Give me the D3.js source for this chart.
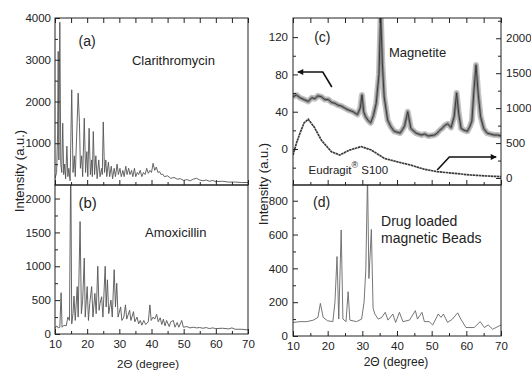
<!DOCTYPE html>
<html><head><meta charset="utf-8">
<script src="https://cdn.jsdelivr.net/npm/d3@7"></script>
<style>body{margin:0;background:#fff} text{font-family:"Liberation Sans",Arial,sans-serif;fill:#222}</style>
</head><body><svg id="c" width="531" height="370"></svg>
<script>
// ---------- data (2θ in degree, intensity in a.u.) ----------
const xTicks = [10,20,30,40,50,60,70];
const xMinor = [15,25,35,45,55,65];
const aTicks = [1000,2000,3000,4000];
const bTicks = [0,500,1000,1500,2000];
const cLeftTicks = [0,40,80,120];
const cRightTicks = [0,500,1000,1500,2000];
const dTicks = [0,200,400,600,800];

// (a) Clarithromycin
const aX = [10.0,10.5,10.8,11.0,11.2,11.5,11.8,12.1,12.4,12.7,13.0,13.3,13.7,14.0,14.3,14.7,15.2,15.6,16.0,16.3,16.7,17.2,17.6,17.9,18.3,18.6,19.1,19.5,19.9,20.2,20.6,21.0,21.4,21.6,21.9,22.3,22.7,23.1,23.6,24.0,24.5,24.7,25.0,25.4,25.8,26.1,26.6,27.0,27.5,27.9,28.4,28.8,29.3,29.7,30.2,30.6,31.1,31.5,32.0,32.4,32.9,33.3,33.8,34.2,34.7,35.1,35.6,36.0,36.5,37.0,37.5,38.0,38.5,39.0,39.5,40.0,40.5,41.0,41.5,42.0,42.5,43.0,43.5,44.0,45.0,46.0,47.0,48.0,49.0,50.0,51.0,52.0,53.0,54.0,55.0,56.0,57.0,58.0,59.0,60.0,62.0,64.0,66.0,68.0,70.0];
const aY = [150,300,1200,3200,600,3900,500,300,1480,250,500,150,930,200,400,100,2280,300,700,200,1100,2200,1500,400,700,200,1600,300,800,200,1360,250,600,200,1280,250,700,150,600,200,400,250,1510,300,600,200,550,200,450,150,400,200,500,250,400,200,350,200,450,250,400,250,350,200,400,200,300,250,350,200,300,250,400,280,350,300,520,350,430,300,320,250,260,200,220,160,180,140,150,110,130,100,140,160,120,100,120,90,110,80,90,70,70,60,60];

// (b) Amoxicillin
const bX = [10.0,10.5,11.0,11.5,11.9,12.2,12.8,13.5,14.0,14.5,14.9,15.2,15.6,15.9,16.3,16.9,17.2,17.8,18.2,18.6,19.1,19.4,20.0,20.4,20.8,21.4,21.8,22.4,22.8,23.3,23.7,24.0,24.5,24.9,25.6,25.9,26.3,26.7,27.4,27.8,28.4,28.8,29.2,29.6,30.4,30.8,31.4,31.9,32.3,33.2,33.6,34.4,34.8,35.5,36.0,36.5,37.0,37.6,38.2,39.0,39.5,39.9,40.5,41.0,41.6,42.1,42.7,43.2,43.7,44.2,44.7,45.5,46.0,46.8,47.3,48.0,48.5,49.4,49.9,51.0,52.0,53.0,54.0,55.0,56.0,57.0,58.0,59.0,60.0,62.0,64.0,65.0,66.0,68.0,70.0];
const bY = [80,120,90,100,610,100,130,120,250,200,2600,150,300,560,200,700,250,1660,300,500,1120,250,700,200,450,700,250,600,300,1000,350,450,550,250,1000,400,800,300,500,250,950,400,750,250,400,200,250,430,220,350,200,330,180,250,150,200,130,200,140,180,430,200,250,220,290,180,240,140,220,120,200,110,180,200,100,170,100,200,100,110,90,100,90,95,85,95,80,90,80,85,75,90,70,70,60];

// (c) Magnetite (left axis)
const magX = [10.0,11.0,12.0,13.2,14.4,15.4,16.3,17.2,18.2,19.2,20.2,21.1,22.1,23.0,24.0,24.9,25.9,27.3,28.6,29.4,29.9,30.4,30.9,31.6,32.4,33.2,34.0,34.8,35.3,35.8,36.3,37.3,38.2,39.2,40.1,40.9,41.6,42.2,43.1,43.6,44.0,45.5,47.0,48.0,49.0,50.8,51.6,52.3,53.0,53.7,54.6,55.6,56.5,57.2,57.8,58.5,59.4,60.3,61.0,61.6,62.2,62.8,63.4,64.1,65.0,66.0,67.0,68.0,69.0,70.0];
const magY = [56,58,55,53,51,55,54,57,56,53,53,50,49,47,46,44,42,40,37,44,58,40,35,31,28,36,49,80,145,90,56,31,24,19,18,17,21,25,40,30,22,17,15,16,14,15,17,20,22,25,27,23,35,60,38,22,20,19,24,30,63,90,60,35,22,17,16,15,15,14];
// (c) Eudragit S100 (right axis)
const eudX = [10.0,11.0,12.0,13.2,14.4,16.1,18.2,21.1,23.5,26.3,29.7,32.6,36.4,40.2,44.0,47.9,51.7,56.5,61.3,66.0,70.0];
const eudY = [330,500,640,790,840,730,540,375,330,400,450,400,280,230,185,125,90,67,43,29,19];

// (d) Drug loaded magnetic beads
const dX = [10.0,12.0,14.0,15.9,17.2,17.9,18.7,20.0,21.5,22.1,22.7,23.2,23.9,24.4,25.3,25.9,26.4,28.3,29.8,30.5,31.0,31.5,31.9,32.6,33.1,33.6,34.6,35.6,36.6,37.4,38.8,39.6,40.7,41.7,43.6,45.3,45.9,47.2,47.9,49.3,50.3,51.9,52.7,53.4,54.6,56.0,57.5,58.4,59.9,62.3,64.0,65.2,66.3,67.6,69.5,70.0];
const dY = [80,85,85,94,110,193,110,90,85,200,470,100,627,100,85,262,94,85,100,200,390,950,340,630,165,130,100,110,140,94,130,80,140,85,94,150,100,140,85,85,65,130,110,130,80,100,137,100,50,50,85,50,65,40,60,65];

// ---------- layout ----------
const svg = d3.select("#c");
const xL = d3.scaleLinear().domain([10,70]).range([55,248]);
const xR = d3.scaleLinear().domain([10,70]).range([293,501]);
const yA = d3.scaleLinear().domain([0,4000]).range([185,18]);
const yB = d3.scaleLinear().domain([0,2200]).range([334,185]);
const yCL = d3.scaleLinear().domain([-38.6,140.5]).range([185,18]);
const yCR = d3.scaleLinear().domain([-100,2290]).range([185,18]);
const yD = d3.scaleLinear().domain([0,893]).range([336,185]);

function clip(id, x, y){
  svg.append("clipPath").attr("id",id).append("rect")
    .attr("x",x.range()[0]).attr("y",y.range()[1])
    .attr("width",x.range()[1]-x.range()[0]).attr("height",y.range()[0]-y.range()[1]);
}
function trace(id, x, y, xs, ys, style){
  const line = d3.line().x(d=>x(d[0])).y(d=>y(d[1]));
  const p = svg.append("path").attr("clip-path",`url(#${id})`)
    .attr("d", line(d3.zip(xs,ys))).attr("fill","none");
  Object.entries(style).forEach(([k,v])=>p.attr(k,v));
  return p;
}
function tickAxis(axisFn, scale, vals, size, pos, fmt, pad, fs){
  const ax = axisFn(scale).tickValues(vals).tickSizeInner(-size).tickSizeOuter(0)
    .tickPadding(pad||4).tickFormat(fmt===null? "" : (fmt||d3.format("d")));
  const g = svg.append("g").attr("transform",pos).call(ax);
  g.select(".domain").remove();
  g.selectAll("line").attr("stroke","#222");
  g.selectAll("text").attr("font-size",fs||"11.5px").attr("fill","#222")
    .attr("font-family","Liberation Sans, Arial, sans-serif");
  return g;
}
function frame(x, y){
  svg.append("rect").attr("x",x.range()[0]).attr("y",y.range()[1])
    .attr("width",x.range()[1]-x.range()[0]).attr("height",y.range()[0]-y.range()[1])
    .attr("fill","none").attr("stroke","#222").attr("stroke-width",1);
}

// clips
clip("ca", xL, yA); clip("cb", xL, yB); clip("cc", xR, yCL); clip("cd", xR, yD);

// traces
trace("ca", xL, yA, aX, aY, {stroke:"#555","stroke-width":0.9});
trace("cb", xL, yB, bX, bY, {stroke:"#555","stroke-width":0.9});
trace("cc", xR, yCL, magX, magY, {stroke:"#c4c4c4","stroke-width":6,"stroke-linejoin":"round"});
trace("cc", xR, yCL, magX, magY, {stroke:"#8a8a8a","stroke-width":3,"stroke-linejoin":"round"});
trace("cc", xR, yCL, magX, magY, {stroke:"#333","stroke-width":0.9});
trace("cc", xR, yCR, eudX, eudY, {stroke:"#3a3a3a","stroke-width":1.7,"stroke-dasharray":"2.5,0.5"});
trace("cd", xR, yD, dX, dY, {stroke:"#666","stroke-width":0.9});

// frames
frame(xL, yA); frame(xL, yB); frame(xR, yCL); frame(xR, yD);

// x ticks: top of (a)/(c), bottom of (a)/(c) (pointing up), bottom of (b)/(d)
[[xL,18,334,185],[xR,18,336,185]].forEach(([x,top,bot,mid])=>{
  tickAxis(d3.axisTop, x, xTicks, 5, `translate(0,${top})`, null);
  tickAxis(d3.axisTop, x, xMinor, 5, `translate(0,${top})`, null);
  tickAxis(d3.axisBottom, x, xTicks, 5, `translate(0,${mid})`, null);
  tickAxis(d3.axisBottom, x, xMinor, 3, `translate(0,${mid})`, null);
  tickAxis(d3.axisBottom, x, xTicks, 5, `translate(0,${bot})`, undefined, 6, "11.5px");
  tickAxis(d3.axisBottom, x, xMinor, 3, `translate(0,${bot})`, null);
});

// y axes
tickAxis(d3.axisLeft, yA, aTicks, 5, "translate(55,0)", undefined, 4);
tickAxis(d3.axisLeft, yA, [500,1500,2500,3500], 3, "translate(55,0)", null);
tickAxis(d3.axisLeft, yB, bTicks, 5, "translate(55,0)", undefined, 4);
tickAxis(d3.axisLeft, yB, [250,750,1250,1750], 3, "translate(55,0)", null);
tickAxis(d3.axisLeft, yCL, cLeftTicks, 5, "translate(293,0)", undefined, 5);
tickAxis(d3.axisLeft, yCL, [-20,20,60,100], 3, "translate(293,0)", null);
tickAxis(d3.axisRight, yCR, cRightTicks, 5, "translate(501,0)", undefined, 5);
tickAxis(d3.axisRight, yCR, [250,750,1250,1750,2250], 3, "translate(501,0)", null);
tickAxis(d3.axisLeft, yD, dTicks, 5, "translate(293,0)", undefined, 5);
tickAxis(d3.axisLeft, yD, [100,300,500,700], 3, "translate(293,0)", null);

// axis titles
svg.append("text").attr("transform","translate(24,171) rotate(-90)").attr("text-anchor","middle")
  .attr("font-size","13px").text("Intensity (a.u.)");
svg.append("text").attr("transform","translate(268,184) rotate(-90)").attr("text-anchor","middle")
  .attr("font-size","13px").text("Intensity (a.u.)");
svg.append("text").attr("x",148).attr("y",368).attr("text-anchor","middle").attr("font-size","11.5px").text("2Θ (degree)");
svg.append("text").attr("x",396).attr("y",366).attr("text-anchor","middle").attr("font-size","12px").text("2Θ (degree)");

// panel labels
const lbl = (x,y,t,fs)=>svg.append("text").attr("x",x).attr("y",y).attr("font-size",fs).text(t);
lbl(xL(17.3), 46, "(a)", "14px");
lbl(xL(33.9), 65, "Clarithromycin", "13px");
lbl(xL(17.3), 208, "(b)", "15px");
lbl(xL(38.0), 237, "Amoxicillin", "13px");
lbl(xR(16.1), 42, "(c)", "14px");
lbl(xR(37.7), 57, "Magnetite", "13px");
lbl(xR(15.8), 207, "(d)", "14px");
lbl(xR(35.4), 226, "Drug loaded", "14px");
lbl(xR(35.4), 243, "magnetic Beads", "14px");
const eu = svg.append("text").attr("x",xR(14.5)).attr("y",174).attr("font-size","11.5px");
eu.append("tspan").text("Eudragit");
eu.append("tspan").attr("dy",-6).attr("font-size","9px").text("®");
eu.append("tspan").attr("dy",6).text(" S100");

// arrows (positions in data space)
svg.append("defs").append("marker").attr("id","ah").attr("viewBox","0 0 10 10")
  .attr("refX",9).attr("refY",5).attr("markerWidth",9).attr("markerHeight",6).attr("orient","auto")
  .attr("markerUnits","userSpaceOnUse")
  .append("path").attr("d","M0,0L10,5L0,10Z").attr("fill","#111");
const arrowL = [[21.2,66.5],[18.6,82.6],[11.4,82.6]];
const arrowR = [[51.6,114],[55.1,300],[68.6,300]];
svg.append("path").attr("d", d3.line().x(d=>xR(d[0])).y(d=>yCL(d[1]))(arrowL))
  .attr("fill","none").attr("stroke","#111").attr("stroke-width",1.6).attr("marker-end","url(#ah)");
svg.append("path").attr("d", d3.line().x(d=>xR(d[0])).y(d=>yCR(d[1]))(arrowR))
  .attr("fill","none").attr("stroke","#111").attr("stroke-width",1.6).attr("marker-end","url(#ah)");
</script>
</body></html>
